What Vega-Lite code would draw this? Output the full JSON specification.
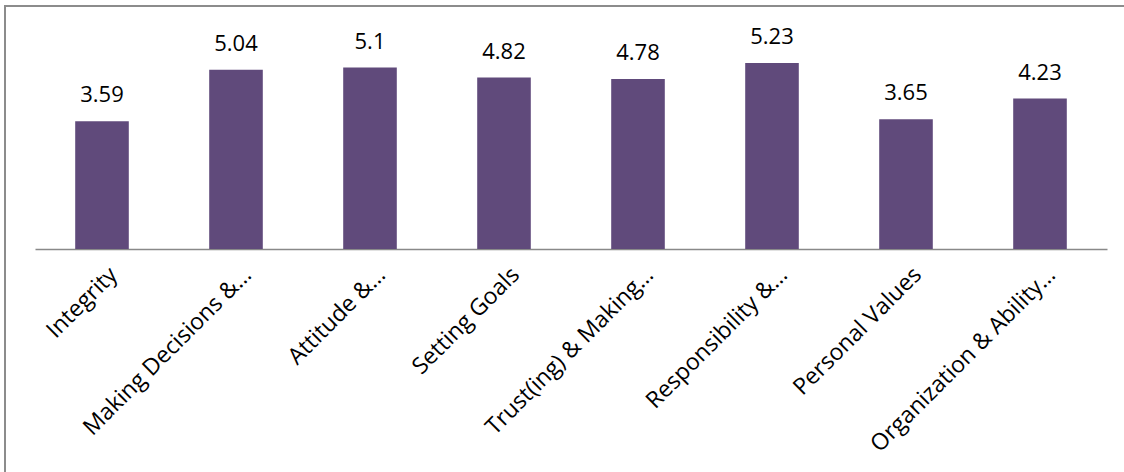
{
  "$schema": "https://vega.github.io/schema/vega-lite/v6.json",
  "autosize": {"type": "none"},
  "padding": {"left": 5, "top": 6, "right": 0, "bottom": 0},
  "width": 1125,
  "height": 470,
  "background": "white",
  "config": {
    "view": {"stroke": "#8c8c8c", "strokeWidth": 2},
    "font": "Open Sans"
  },
  "data": {
    "values": [
      {"category": "Integrity", "score": 3.59},
      {"category": "Making Decisions &…", "score": 5.04},
      {"category": "Attitude &…", "score": 5.1},
      {"category": "Setting Goals", "score": 4.82},
      {"category": "Trust(ing) & Making…", "score": 4.78},
      {"category": "Responsibility &…", "score": 5.23},
      {"category": "Personal Values", "score": 3.65},
      {"category": "Organization & Ability…", "score": 4.23}
    ]
  },
  "encoding": {
    "x": {
      "field": "category",
      "type": "nominal",
      "sort": null,
      "scale": {"range": [30, 1102], "paddingInner": 0.6, "paddingOuter": 0.3},
      "axis": {
        "title": null,
        "orient": "bottom",
        "offset": -227,
        "domainColor": "#898989",
        "domainWidth": 1.5,
        "ticks": false,
        "labelAngle": -45,
        "labelAlign": "right",
        "labelBaseline": "top",
        "labelOffset": 4,
        "labelPadding": 14,
        "labelFontSize": 23,
        "labelColor": "#000000",
        "labelFont": "Open Sans",
        "labelLimit": 400
      }
    },
    "y": {
      "field": "score",
      "type": "quantitative",
      "scale": {"domain": [0, 6], "range": [243, 29.6], "nice": false},
      "axis": null
    }
  },
  "layer": [
    {"mark": {"type": "bar", "color": "#604A7B"}},
    {
      "mark": {"type": "text", "baseline": "alphabetic", "dy": -19, "fontSize": 22, "color": "#000000", "font": "Open Sans"},
      "encoding": {"text": {"field": "score", "type": "quantitative"}}
    }
  ]
}
